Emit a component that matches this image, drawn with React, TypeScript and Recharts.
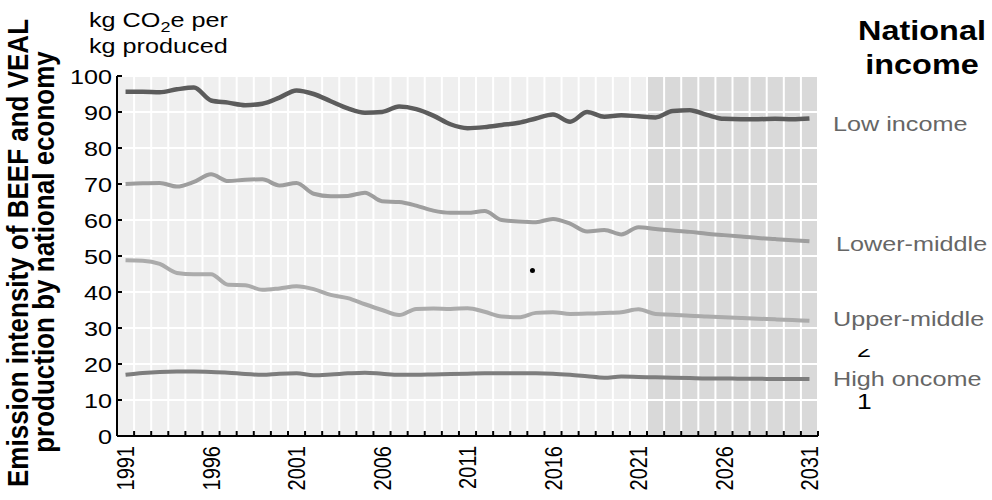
import React from 'react';
import { LineChart, Line, XAxis, YAxis, CartesianGrid, ReferenceDot } from 'recharts';

const years = [
  1991, 1992, 1993, 1994, 1995, 1996, 1997, 1998, 1999, 2000,
  2001, 2002, 2003, 2004, 2005, 2006, 2007, 2008, 2009, 2010,
  2011, 2012, 2013, 2014, 2015, 2016, 2017, 2018, 2019, 2020,
  2021, 2022, 2023, 2024, 2025, 2026, 2027, 2028, 2029, 2030, 2031,
];

const lowIncome = [
  95.6, 95.6, 95.5, 96.3, 96.8, 93.2, 92.6, 91.9, 92.3, 94.0,
  96.0, 95.0, 93.0, 91.0, 89.8, 90.0, 91.5, 90.8, 89.0, 86.6,
  85.5, 85.8, 86.4, 87.0, 88.2, 89.3, 87.3, 90.0, 88.7, 89.1,
  88.8, 88.5, 90.3, 90.5, 89.2, 88.1, 88.0, 88.0, 88.1, 88.0, 88.2,
];

const lowerMiddle = [
  70.0, 70.2, 70.3, 69.3, 70.6, 72.7, 70.8, 71.2, 71.3, 69.6,
  70.3, 67.3, 66.6, 66.7, 67.6, 65.2, 65.0, 64.0, 62.6, 62.0,
  62.0, 62.5, 60.0, 59.6, 59.4, 60.3, 59.0, 56.8, 57.2, 56.0,
  58.0, 57.5, 57.1, 56.7, 56.2, 55.8, 55.4, 55.0, 54.7, 54.4, 54.1,
];

const upperMiddle = [
  48.8, 48.7, 47.8, 45.3, 44.9, 44.9, 42.0, 41.9, 40.6, 41.0,
  41.6, 40.8, 39.2, 38.3, 36.6, 35.0, 33.6, 35.3, 35.4, 35.3,
  35.5, 34.5, 33.2, 33.0, 34.2, 34.4, 33.9, 34.0, 34.2, 34.4,
  35.2, 33.9, 33.7, 33.4, 33.2, 33.0, 32.8, 32.6, 32.4, 32.2, 32.0,
];

const highIncome = [
  17.0, 17.5, 17.8, 17.9, 17.9, 17.8, 17.6, 17.2, 17.0, 17.3,
  17.4, 16.9, 17.1, 17.4, 17.6, 17.3, 17.0, 17.0, 17.1, 17.2,
  17.3, 17.4, 17.4, 17.4, 17.4, 17.3, 17.0, 16.6, 16.2, 16.5,
  16.4, 16.3, 16.2, 16.1, 16.0, 16.0, 15.9, 15.9, 15.8, 15.8, 15.8,
];

const xLabelYears = [1991, 1996, 2001, 2006, 2011, 2016, 2021, 2026, 2031];
const yTicks = [0, 10, 20, 30, 40, 50, 60, 70, 80, 90, 100];
const projectionStart = 2022;
const seriesLabels = ['Low income', 'Lower-middle', 'Upper-middle', 'High oncome'];
const titleLines = ['National', 'income'];
const yTitleLines = ['Emission intensity of BEEF and VEAL', 'production by national economy'];
const strayDot = { year: 2014.8, value: 46 };

const FONT = '"Liberation Sans", Arial, Helvetica, sans-serif';
const SX = 1.2;

const data = years.map((year, i) => ({
  year,
  low: lowIncome[i],
  lowerMid: lowerMiddle[i],
  upperMid: upperMiddle[i],
  high: highIncome[i],
}));

const boundaries = [...years.map((y) => y - 0.5), years[years.length - 1] + 0.5];
const xTicks = [...boundaries, ...xLabelYears].sort((a, b) => a - b);
const stripeFills = boundaries.map((b) => (b + 0.5 >= projectionStart ? '#d9d9d9' : '#efefef'));

const XTick = (props: any) => {
  const { x, y, payload } = props;
  const v = payload.value;
  if (Math.abs(v - Math.round(v)) > 0.01) {
    return <line x1={x} x2={x} y1={y} y2={y - 5} stroke="#000" strokeWidth={2} />;
  }
  return (
    <text
      transform={`translate(${x},${y + 10}) scale(${SX},1) rotate(-90)`}
      textAnchor="end"
      dy="0.36em"
      fontSize={20}
      fontFamily={FONT}
      fill="#000"
    >
      {v}
    </text>
  );
};

const YTick = (props: any) => {
  const { x, y, payload } = props;
  return (
    <g>
      <line x1={x} x2={x + 5} y1={y} y2={y} stroke="#000" strokeWidth={2} />
      <text
        transform={`translate(${x - 5},${y}) scale(${SX},1)`}
        textAnchor="end"
        dy="0.36em"
        fontSize={21}
        fontFamily={FONT}
        fill="#000"
      >
        {payload.value}
      </text>
    </g>
  );
};

export default function App() {
  return (
    <div style={{ position: 'absolute', left: 0, top: 0, width: 992, height: 500, background: '#fff' }}>
      <LineChart
        width={992}
        height={500}
        data={data}
        margin={{ top: 76, right: 174, left: 57, bottom: 24 }}
      >
        <CartesianGrid
          verticalValues={boundaries}
          horizontalValues={yTicks}
          stroke="#ffffff"
          strokeWidth={2}
          verticalFill={stripeFills}
          fillOpacity={1}
        />
        <XAxis
          dataKey="year"
          type="number"
          domain={[boundaries[0], boundaries[boundaries.length - 1]]}
          ticks={xTicks}
          interval={0}
          tickLine={false}
          tickSize={0}
          tickMargin={0}
          height={40}
          axisLine={{ stroke: '#000', strokeWidth: 2 }}
          tick={<XTick />}
        />
        <YAxis
          type="number"
          domain={[0, 100]}
          ticks={yTicks}
          interval={0}
          width={60}
          tickLine={false}
          tickSize={0}
          tickMargin={0}
          axisLine={{ stroke: '#000', strokeWidth: 2 }}
          tick={<YTick />}
        />
        <Line dataKey="low" type="monotone" stroke="#5c5c5c" strokeWidth={4.5} dot={false} isAnimationActive={false} />
        <Line dataKey="lowerMid" type="monotone" stroke="#9e9e9e" strokeWidth={4} dot={false} isAnimationActive={false} />
        <Line dataKey="upperMid" type="monotone" stroke="#ababab" strokeWidth={4} dot={false} isAnimationActive={false} />
        <Line dataKey="high" type="monotone" stroke="#7d7d7d" strokeWidth={4} dot={false} isAnimationActive={false} />
        <ReferenceDot x={strayDot.year} y={strayDot.value} r={2.5} fill="#000" stroke="none" />
      </LineChart>
      <svg
        width={992}
        height={500}
        style={{ position: 'absolute', left: 0, top: 0, pointerEvents: 'none' }}
        fontFamily={FONT}
      >
        <defs>
          <clipPath id="clip2">
            <rect x={850} y={349} width={30} height={8} />
          </clipPath>
        </defs>
        <text transform={`translate(89,27) scale(${SX},1)`} fontSize={21} fill="#000">
          kg CO<tspan fontSize={15} dy={5}>2</tspan>
          <tspan dy={-5}>e per</tspan>
        </text>
        <text transform={`translate(89,53) scale(${SX},1)`} fontSize={21} fill="#000">
          kg produced
        </text>
        <text transform={`translate(922,40) scale(${SX},1)`} fontSize={27} fontWeight="bold" textAnchor="middle" fill="#000">
          {titleLines[0]}
        </text>
        <text transform={`translate(922,74) scale(${SX},1)`} fontSize={27} fontWeight="bold" textAnchor="middle" fill="#000">
          {titleLines[1]}
        </text>
        <text transform={`translate(28,253) scale(1.1,1) rotate(-90)`} fontSize={26} fontWeight="bold" textAnchor="middle" fill="#000">
          {yTitleLines[0]}
        </text>
        <text transform={`translate(54,252) scale(1.1,1) rotate(-90)`} fontSize={26} fontWeight="bold" textAnchor="middle" fill="#000">
          {yTitleLines[1]}
        </text>
        <text transform={`translate(833,131) scale(${SX},1)`} fontSize={21} fill="#666">{seriesLabels[0]}</text>
        <text transform={`translate(836,251) scale(${SX},1)`} fontSize={21} fill="#666">{seriesLabels[1]}</text>
        <text transform={`translate(833,326) scale(${SX},1)`} fontSize={21} fill="#666">{seriesLabels[2]}</text>
        <text transform={`translate(833,386) scale(${SX},1)`} fontSize={21} fill="#666">{seriesLabels[3]}</text>
        <g clipPath="url(#clip2)">
          <text transform={`translate(857,357) scale(${SX},1)`} fontSize={21} fill="#000">2</text>
        </g>
        <text transform={`translate(857,409) scale(${SX},1)`} fontSize={22} fill="#000">1</text>
      </svg>
    </div>
  );
}
